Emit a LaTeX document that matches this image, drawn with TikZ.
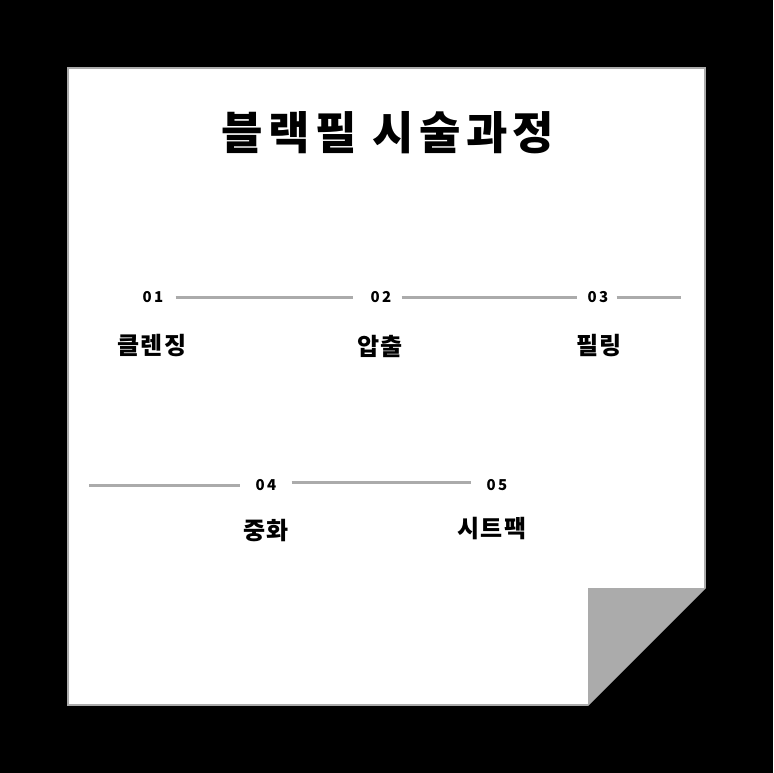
\documentclass[tikz,border=0pt]{standalone}
\usepackage{fontspec}
\newfontfamily\kr{Noto Sans CJK KR}
\newfontfamily\krt{Noto Sans CJK KR}[LetterSpace=12]
\newfontfamily\krl{Noto Sans CJK KR}[LetterSpace=6]
\begin{document}
\begin{tikzpicture}[x=1pt,y=-1pt,
  num/.style={font=\kr\bfseries\fontsize{15}{15}\selectfont, inner sep=0pt, text=black},
  lbl/.style={font=\krl\bfseries\fontsize{24}{24}\selectfont, inner sep=0pt, text=black},
  conn/.style={draw=black!33, line width=3pt}]
\useasboundingbox (0,0) rectangle (773,773);
\fill[black] (0,0) rectangle (773,773);
% paper
\fill[white, draw=black!33, line width=1.6pt] (68,68) -- (705,68) -- (705,588) -- (588,705) -- (68,705) -- cycle;
\fill[black!33] (588,588) -- (705,588) -- (588,705) -- cycle;
% title
\node[font=\krt\bfseries\fontsize{45}{45}\selectfont, inner sep=0pt] (title) at (388,133) {블랙필 시술과정};
% row 1
\node[num] (n1) at (153,297) {0\,1};
\node[num] (n2) at (381,297) {0\,2};
\node[num] (n3) at (598,297) {0\,3};
\coordinate (e3) at (681,297);
\node[lbl] (l1) at (152,346) {클렌징};
\node[lbl] (l2) at (380,346) {압출};
\node[lbl] (l3) at (599,346) {필링};
\draw[conn, shorten <=12pt, shorten >=17pt] (n1.east) -- (n2.west);
\draw[conn, shorten <=10pt, shorten >=10pt] (n2.east) -- (n3.west);
\draw[conn, shorten <=8pt] (n3.east) -- (e3);
% row 2
\coordinate (s4) at (89,485);
\node[num] (n4) at (266,485) {0\,4};
\node[num] (n5) at (497,485) {0\,5};
\node[lbl] (l4) at (266,531) {중화};
\node[lbl] (l5) at (492,529) {시트팩};
\draw[conn, shorten >=15pt] (s4) -- (n4.west);
\draw[conn, shorten <=15pt, shorten >=15pt] ([yshift=3pt]n4.east) -- ([yshift=3pt]n5.west);
\end{tikzpicture}
\end{document}
